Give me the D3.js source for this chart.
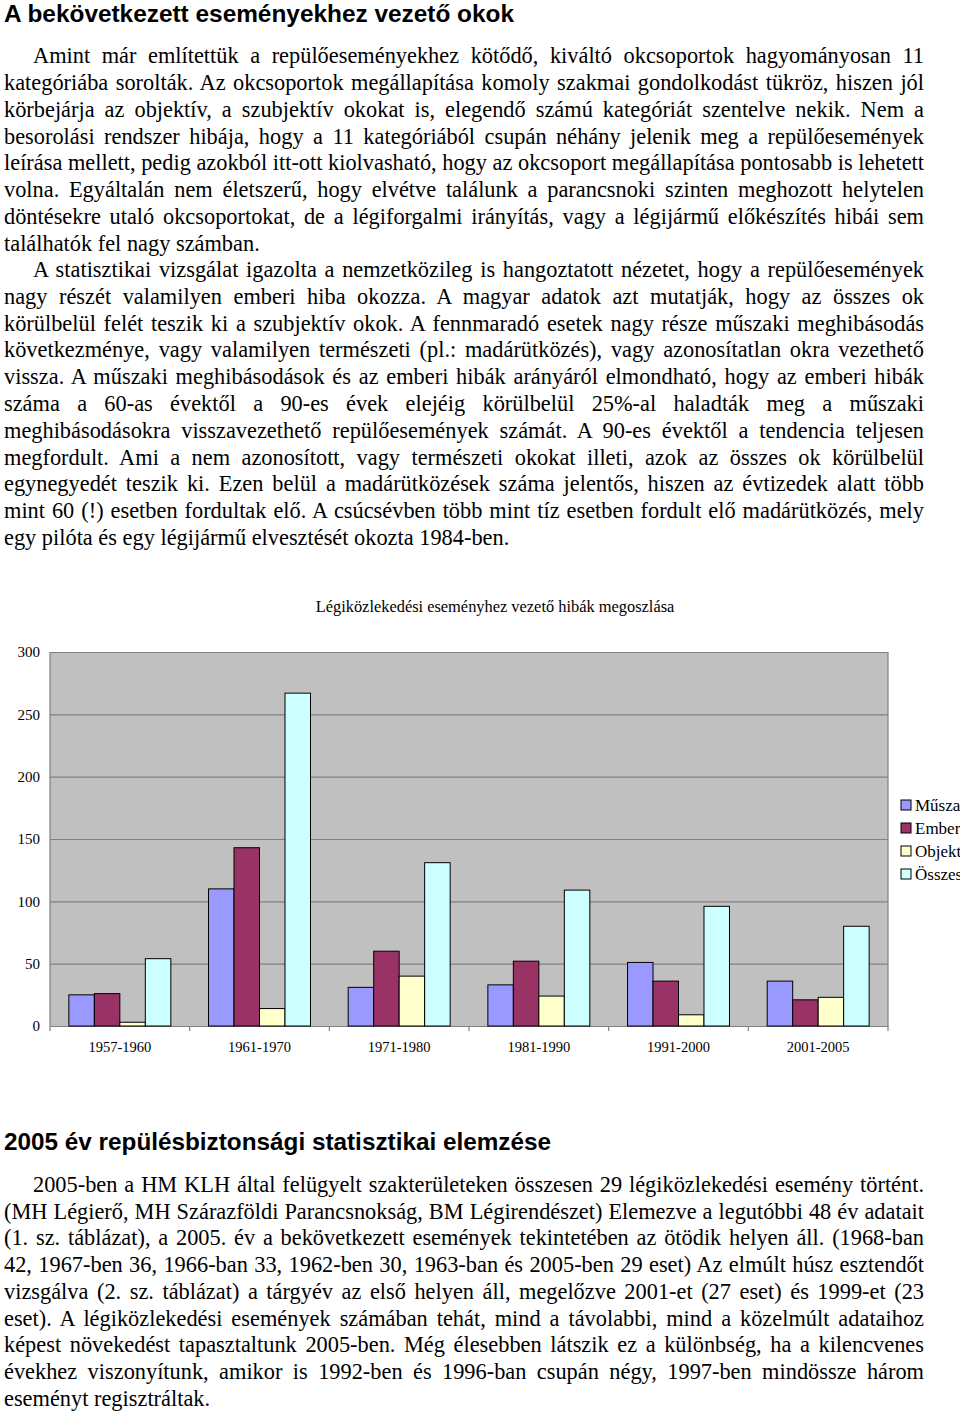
<!DOCTYPE html>
<html><head><meta charset="utf-8">
<script src="https://cdn.jsdelivr.net/npm/d3@7"></script>
<style>
html,body{margin:0;padding:0;background:#fff;width:960px;height:1413px;overflow:hidden;}
#page{position:relative;width:960px;height:1413px;overflow:hidden;}
.h{position:absolute;left:4px;font-family:"Liberation Sans",Arial,sans-serif;font-weight:bold;font-size:24.3px;color:#000;white-space:nowrap;transform-origin:0 0;}
.ln{position:absolute;left:4px;font-family:"Liberation Serif","Times New Roman",serif;font-size:22.5px;color:#000;white-space:nowrap;line-height:26px;height:26px;transform-origin:0 0;}
svg{position:absolute;left:0;top:0;}
</style></head>
<body><div id="page"></div>
<script>
// ---------- data ----------
const categories = ["1957-1960","1961-1970","1971-1980","1981-1990","1991-2000","2001-2005"];
const seriesNames = ["Műszaki","Emberi","Objektív","Összes"];
const muszaki  = [25,110,31,33,51,36];
const emberi   = [26,143,60,52,36,21];
const objektiv = [3,14,40,24,9,23];
const osszes   = [54,267,131,109,96,80];
const yTicks = [0,50,100,150,200,250,300];
const chartTitle = "Légiközlekedési eseményhez vezető hibák megoszlása";

const heading1 = "A bekövetkezett eseményekhez vezető okok";
const heading2 = "2005 év repülésbiztonsági statisztikai elemzése";
const para1 = [
"Amint már említettük a repülőeseményekhez kötődő, kiváltó okcsoportok hagyományosan 11",
"kategóriába sorolták. Az okcsoportok megállapítása komoly szakmai gondolkodást tükröz, hiszen jól",
"körbejárja az objektív, a szubjektív okokat is, elegendő számú kategóriát szentelve nekik. Nem a",
"besorolási rendszer hibája, hogy a 11 kategóriából csupán néhány jelenik meg a repülőesemények",
"leírása mellett, pedig azokból itt-ott kiolvasható, hogy az okcsoport megállapítása pontosabb is lehetett",
"volna. Egyáltalán nem életszerű, hogy elvétve találunk a parancsnoki szinten meghozott helytelen",
"döntésekre utaló okcsoportokat, de a légiforgalmi irányítás, vagy a légijármű előkészítés hibái sem",
"találhatók fel nagy számban."];
const para2 = [
"A statisztikai vizsgálat igazolta a nemzetközileg is hangoztatott nézetet, hogy a repülőesemények",
"nagy részét valamilyen emberi hiba okozza. A magyar adatok azt mutatják, hogy az összes ok",
"körülbelül felét teszik ki a szubjektív okok. A fennmaradó esetek nagy része műszaki meghibásodás",
"következménye, vagy valamilyen természeti (pl.: madárütközés), vagy azonosítatlan okra vezethető",
"vissza. A műszaki meghibásodások és az emberi hibák arányáról elmondható, hogy az emberi hibák",
"száma a 60-as évektől a 90-es évek elejéig körülbelül 25%-al haladták meg a műszaki",
"meghibásodásokra visszavezethető repülőesemények számát. A 90-es évektől a tendencia teljesen",
"megfordult. Ami a nem azonosított, vagy természeti okokat illeti, azok az összes ok körülbelül",
"egynegyedét teszik ki. Ezen belül a madárütközések száma jelentős, hiszen az évtizedek alatt több",
"mint 60 (!) esetben fordultak elő. A csúcsévben több mint tíz esetben fordult elő madárütközés, mely",
"egy pilóta és egy légijármű elvesztését okozta 1984-ben."];
const para3 = [
"2005-ben a HM KLH által felügyelt szakterületeken összesen 29 légiközlekedési esemény történt.",
"(MH Légierő, MH Szárazföldi Parancsnokság, BM Légirendészet) Elemezve a legutóbbi 48 év adatait",
"(1. sz. táblázat), a 2005. év a bekövetkezett események tekintetében az ötödik helyen áll. (1968-ban",
"42, 1967-ben 36, 1966-ban 33, 1962-ben 30, 1963-ban és 2005-ben 29 eset) Az elmúlt húsz esztendőt",
"vizsgálva (2. sz. táblázat) a tárgyév az első helyen áll, megelőzve 2001-et (27 eset) és 1999-et (23",
"eset). A légiközlekedési események számában tehát, mind a távolabbi, mind a közelmúlt adataihoz",
"képest növekedést tapasztaltunk 2005-ben. Még élesebben látszik ez a különbség, ha a kilencvenes",
"évekhez viszonyítunk, amikor is 1992-ben és 1996-ban csupán négy, 1997-ben mindössze három",
"eseményt regisztráltak."];

// ---------- text ----------
const page = d3.select("#page");
function heading(t, top, targetW){
  const el = page.append("div").attr("class","h").style("top",top+"px").text(t).node();
  const w = el.getBoundingClientRect().width;
  el.style.transform = "scaleX("+(targetW/w)+")";
}
heading(heading1, 0, 510);
heading(heading2, 1128, 547);

const RIGHT = 924;
const allLines = [];
function addPara(lines, y0, step){
  lines.forEach((t,i)=>{
    const left = i===0 ? 33 : 4;
    const el = page.append("div").attr("class","ln")
      .style("top",(y0+i*step-14)+"px").style("left",left+"px").text(t).node();
    allLines.push({el, left, last: i===lines.length-1, nat: el.getBoundingClientRect().width});
  });
}
addPara(para1, 57, 26.85);
addPara(para2, 271, 26.8);
addPara(para3, 1186, 26.7);
// global horizontal compression so the densest full line fits
let s = 1;
allLines.forEach(d=>{ if(!d.last){ s = Math.min(s, (RIGHT-d.left)/d.nat); } });
allLines.forEach(d=>{
  const target = RIGHT - d.left;
  d.el.style.transform = "scaleX("+s+")";
  if(!d.last){
    d.el.style.width = (target/s)+"px";
    d.el.style.textAlign = "justify";
    d.el.style.textAlignLast = "justify";
  }
});

// ---------- chart ----------
const svg = page.append("svg").attr("width",960).attr("height",1413);
const serif = "Liberation Serif, Times New Roman, serif";
const L=50, R=888, T=652, B=1026;
const x0 = d3.scaleBand().domain(categories).range([L,R]).paddingInner(0.27).paddingOuter(0.135);
const x1 = d3.scaleBand().domain(seriesNames).range([0,x0.bandwidth()]);
const y = d3.scaleLinear().domain([0,300]).range([B,T]);
const colors = d3.scaleOrdinal().domain(seriesNames).range(["#9999ff","#993366","#ffffcc","#ccffff"]);
const values = [muszaki, emberi, objektiv, osszes];

svg.append("text").attr("x",495).attr("y",612).attr("text-anchor","middle")
  .style("font-family",serif).style("font-size","16.4px").text(chartTitle);

svg.append("rect").attr("x",L).attr("y",T).attr("width",R-L).attr("height",B-T).attr("fill","#c0c0c0");

const yAxis = svg.append("g").attr("transform",`translate(${L},0)`)
  .call(d3.axisLeft(y).tickValues(yTicks).tickSize(-(R-L)).tickPadding(10));
yAxis.select(".domain").remove();
yAxis.selectAll(".tick line").attr("stroke","#808080").attr("stroke-width",1.2);
yAxis.selectAll(".tick text").style("font-family",serif).style("font-size","15px").attr("fill","#000");

svg.append("line").attr("x1",L).attr("x2",L).attr("y1",T).attr("y2",B).attr("stroke","#808080").attr("stroke-width",1.2);
svg.append("line").attr("x1",R).attr("x2",R).attr("y1",T).attr("y2",B).attr("stroke","#808080").attr("stroke-width",1.2);

const xAxis = svg.append("g").attr("transform",`translate(0,${B})`)
  .call(d3.axisBottom(x0).tickSize(0).tickPadding(16));
xAxis.select(".domain").attr("stroke","#808080").attr("stroke-width",1.2);
xAxis.selectAll(".tick text").style("font-family",serif).style("font-size","14.5px").attr("fill","#000");
svg.selectAll(".xtick").data(d3.range(categories.length+1)).enter().append("line")
  .attr("x1",i=>L+i*(R-L)/categories.length).attr("x2",i=>L+i*(R-L)/categories.length)
  .attr("y1",B).attr("y2",B+5).attr("stroke","#808080").attr("stroke-width",1.2);

const groups = svg.selectAll(".grp").data(categories).enter().append("g")
  .attr("transform",d=>`translate(${x0(d)},0)`);
groups.selectAll("rect").data((d,i)=>seriesNames.map((sn,k)=>({s:sn,v:values[k][i]}))).enter().append("rect")
  .attr("x",d=>x1(d.s)).attr("width",x1.bandwidth())
  .attr("y",d=>y(d.v)).attr("height",d=>B-y(d.v))
  .attr("fill",d=>colors(d.s)).attr("stroke","#000").attr("stroke-width",1);

const leg = svg.selectAll(".leg").data(seriesNames).enter().append("g")
  .attr("transform",(d,i)=>`translate(901,${805+i*23})`);
leg.append("rect").attr("x",0).attr("y",-5).attr("width",10).attr("height",10)
  .attr("fill",d=>colors(d)).attr("stroke","#000");
leg.append("text").attr("x",14).attr("y",6)
  .style("font-family",serif).style("font-size","17px").text(d=>d);
</script></body></html>
